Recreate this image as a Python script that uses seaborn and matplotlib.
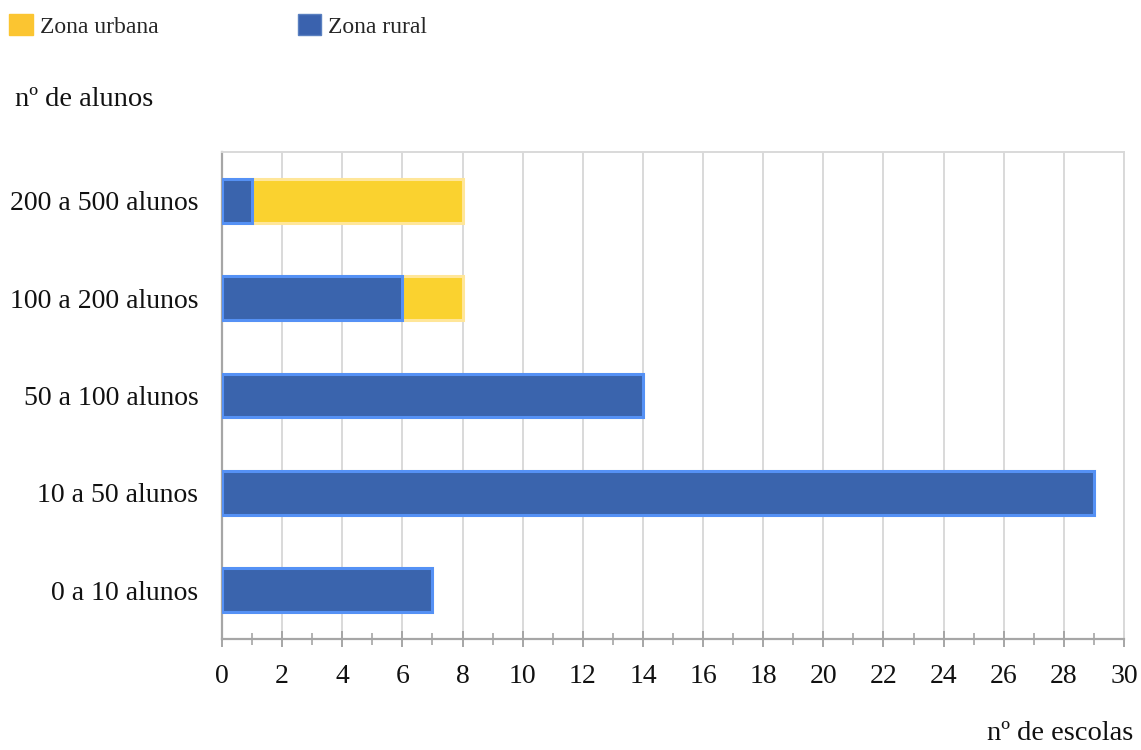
import matplotlib
matplotlib.use("Agg")
import matplotlib.pyplot as plt
from matplotlib.patches import Patch
from matplotlib.ticker import MultipleLocator
import pandas as pd
import seaborn as sns

# Data: number of schools per student-count range, split by zone
categories = ["200 a 500 alunos", "100 a 200 alunos", "50 a 100 alunos",
              "10 a 50 alunos", "0 a 10 alunos"]
rural = [1, 6, 14, 29, 7]
urbana = [7, 2, 0, 0, 0]

df = pd.DataFrame({"faixa": categories, "rural": rural, "urbana": urbana})
df["total"] = df["rural"] + df["urbana"]

sns.set_theme(style="white")
plt.rcParams["font.family"] = ["Liberation Serif", "DejaVu Serif"]

RURAL_FILL, RURAL_EDGE = "#3A64AD", "#5591F5"
URB_FILL, URB_EDGE = "#FAD22F", "#FFE699"

fig = plt.figure(figsize=(11.41, 7.5), dpi=100)
ax = fig.add_axes([0.1946, 0.148, 0.9851 - 0.1946, 0.7973 - 0.148])

# Stacked bars: full total in yellow, rural part drawn on top in blue
sns.barplot(data=df, x="total", y="faixa", orient="h", color=URB_FILL,
            saturation=1, edgecolor=URB_EDGE, linewidth=2.2, width=0.45,
            ax=ax, zorder=3)
sns.barplot(data=df, x="rural", y="faixa", orient="h", color=RURAL_FILL,
            saturation=1, edgecolor=RURAL_EDGE, linewidth=2.2, width=0.45,
            ax=ax, zorder=4)

ax.set_xlim(0, 30)
ax.set_ylim(4.5, -0.5)
ax.xaxis.set_major_locator(MultipleLocator(2))
ax.xaxis.set_minor_locator(MultipleLocator(1))
ax.grid(axis="x", which="major", color="#D9D9D9", linewidth=1.4, zorder=0)
ax.set_axisbelow(True)

for side in ["top", "right"]:
    ax.spines[side].set_color("#D9D9D9")
    ax.spines[side].set_linewidth(1.4)
for side in ["left", "bottom"]:
    ax.spines[side].set_color("#A6A6A6")
    ax.spines[side].set_linewidth(1.6)

ax.tick_params(axis="x", which="both", bottom=True)
ax.tick_params(axis="x", which="major", direction="inout", length=12,
               width=1.4, color="#A6A6A6", pad=12, labelsize=20,
               labelcolor="#111111")
ax.tick_params(axis="x", which="minor", direction="inout", length=9,
               width=1.2, color="#A6A6A6")
ax.tick_params(axis="y", length=0, pad=17, labelsize=20, labelcolor="#111111")
ax.set_xlabel("")
ax.set_ylabel("")

fig.text(15 / 1141, 1 - 100 / 750, "nº de alunos", fontsize=20.5,
         ha="left", va="center", color="#111111")
fig.text(1133 / 1141, 1 - 734 / 750, "nº de escolas", fontsize=20.5,
         ha="right", va="center", color="#111111")

handles = [Patch(facecolor="#FBC531", edgecolor="#FBC531", label="Zona urbana"),
           Patch(facecolor="#3A62AE", edgecolor="#5A80C0", label="Zona rural")]
fig.legend(handles=handles, loc="upper left",
           bbox_to_anchor=(9 / 1141, 1 - 14 / 750), ncol=2, frameon=False,
           fontsize=17, handlelength=1.0, handleheight=1.0,
           handletextpad=0.3, columnspacing=5.9, borderpad=0,
           borderaxespad=0)

fig.savefig("out.png", dpi=100)
